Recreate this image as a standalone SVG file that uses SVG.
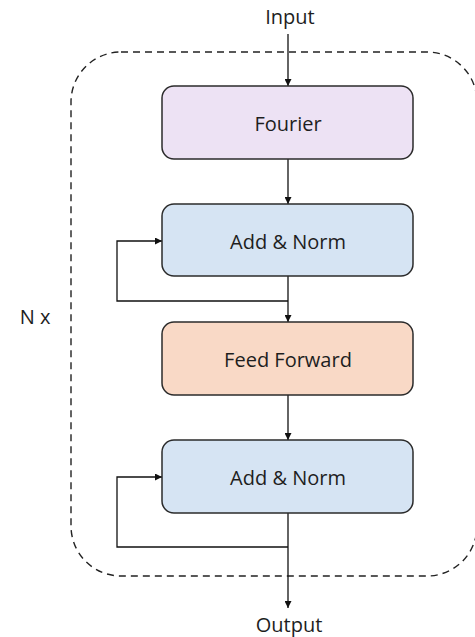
<svg xmlns="http://www.w3.org/2000/svg" width="475" height="637" viewBox="0 0 475 637">
  <style>
    .box { stroke: #2b2b2b; stroke-width: 1.5; }
    .lbl { font-family: "Open Sans", "Noto Sans", sans-serif; font-size: 20px; fill: #1e1e1e; text-anchor: middle; }
    .wire { fill: none; stroke: #111; stroke-width: 1.3; }
  </style>
  <defs>
    <marker id="arrow" viewBox="0 0 10 10" refX="10" refY="5" markerWidth="7" markerHeight="7" markerUnits="userSpaceOnUse" orient="auto">
      <path d="M0,0 L10,5 L0,10 z" fill="#111"/>
    </marker>
  </defs>
  <rect width="475" height="637" fill="#ffffff"/>

  <!-- repeated block boundary -->
  <g id="repeat-frame">
    <rect x="71" y="52" width="406" height="524" rx="50" ry="50" fill="none" stroke="#222" stroke-width="1.4" stroke-dasharray="7,5"/>
    <text class="lbl" x="35" y="324" font-size="23">N x</text>
  </g>

  <g id="connectors">
    <line class="wire" x1="288" y1="34" x2="288" y2="86" marker-end="url(#arrow)"/>
    <line class="wire" x1="288" y1="159" x2="288" y2="204" marker-end="url(#arrow)"/>
    <line class="wire" x1="288" y1="276" x2="288" y2="322" marker-end="url(#arrow)"/>
    <polyline class="wire" points="288,301 117,301 117,241 162,241" marker-end="url(#arrow)"/>
    <line class="wire" x1="288" y1="395" x2="288" y2="440" marker-end="url(#arrow)"/>
    <line class="wire" x1="288" y1="513" x2="288" y2="608" marker-end="url(#arrow)"/>
    <polyline class="wire" points="288,547 117,547 117,477 162,477" marker-end="url(#arrow)"/>
  </g>

  <g id="input">
    <text class="lbl" x="290" y="24">Input</text>
  </g>

  <g id="fourier">
    <rect class="box" x="162" y="86" width="251" height="73" rx="12" fill="#ede2f4"/>
    <text class="lbl" x="288" y="131">Fourier</text>
  </g>

  <g id="add-norm-1">
    <rect class="box" x="162" y="204" width="251" height="72" rx="12" fill="#d6e4f3"/>
    <text class="lbl" x="288" y="249">Add &amp; Norm</text>
  </g>

  <g id="feed-forward">
    <rect class="box" x="162" y="322" width="251" height="73" rx="12" fill="#f9d9c6"/>
    <text class="lbl" x="288" y="367">Feed Forward</text>
  </g>

  <g id="add-norm-2">
    <rect class="box" x="162" y="440" width="251" height="73" rx="12" fill="#d6e4f3"/>
    <text class="lbl" x="288" y="485">Add &amp; Norm</text>
  </g>

  <g id="output">
    <text class="lbl" x="289" y="632">Output</text>
  </g>
</svg>
